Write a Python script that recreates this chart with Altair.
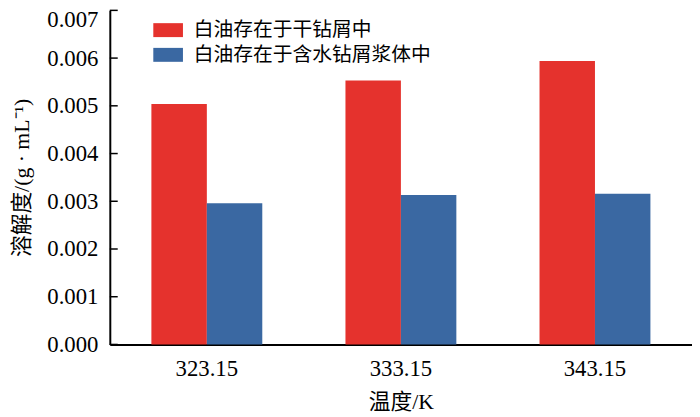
import altair as alt
import pandas as pd

temps = ["323.15", "333.15", "343.15"]
series = ["白油存在于干钻屑中", "白油存在于含水钻屑浆体中"]
dry_values = [0.00504, 0.00553, 0.00594]
slurry_values = [0.00296, 0.00313, 0.00316]
y_ticks = [0.000, 0.001, 0.002, 0.003, 0.004, 0.005, 0.006, 0.007]
colors = ["#E5322D", "#3A68A2"]

rows = []
for t, d, s in zip(temps, dry_values, slurry_values):
    rows.append({"temp": t, "series": series[0], "value": d})
    rows.append({"temp": t, "series": series[1], "value": s})
df = pd.DataFrame(rows)
tick_df = pd.DataFrame({"value": y_ticks})

font = "Liberation Serif, Noto Sans CJK SC"
yscale = alt.Scale(domain=[0, 0.007], nice=False, zero=True)

yaxis = alt.Axis(
    title="溶解度/(g · mL⁻¹)", values=y_ticks, format=".3f",
    ticks=False, tickSize=0, grid=False,
    labelPadding=12, titlePadding=14,
    labelOffset={"condition": {"test": "datum.value > 0.0069", "value": 9}, "value": 0},
    labelFontSize=23, titleFontSize=22,
)

bars = alt.Chart(df).mark_bar().encode(
    x=alt.X(
        "temp:N",
        sort=temps,
        scale=alt.Scale(paddingInner=0, paddingOuter=0),
        axis=alt.Axis(
            title="温度/K", labelAngle=0, ticks=False, tickSize=0,
            labelPadding=13, titlePadding=12,
            labelFontSize=23, titleFontSize=22,
        ),
    ),
    xOffset=alt.XOffset(
        "series:N", sort=series,
        scale=alt.Scale(paddingInner=0, paddingOuter=0.75),
    ),
    y=alt.Y("value:Q", scale=yscale, axis=yaxis),
    color=alt.Color(
        "series:N",
        sort=series,
        scale=alt.Scale(domain=series, range=colors),
        legend=alt.Legend(
            title=None, orient="none", legendX=44, legendY=5,
            symbolType="M-1,-0.47H1V0.47H-1Z", symbolSize=900,
            symbolStrokeWidth=0, symbolOpacity=1,
            labelFontSize=20, labelColor="black",
            labelOffset=11, rowPadding=-6, padding=0, labelLimit=500,
        ),
    ),
)

ticks = alt.Chart(tick_df).mark_rule(color="black", strokeWidth=1.5).encode(
    y=alt.Y("value:Q", scale=yscale, axis=None),
    x=alt.value(0),
    x2=alt.value(8),
)

chart = alt.layer(bars, ticks).resolve_axis(y="independent").properties(
    width=589,
    height=338,
    padding={"left": 103, "top": 0, "right": 0, "bottom": 71},
    autosize=alt.AutoSizeParams(type="none"),
).configure(
    font=font
).configure_view(
    stroke=None
).configure_axis(
    labelFont=font, titleFont=font,
    labelColor="black", titleColor="black",
    titleFontWeight="normal", domainColor="black", domainWidth=2,
).configure_axisY(
    labelFont=font, titleFont=font,
).configure_legend(
    labelFont=font,
)

chart.save("out.html", embed_options={"renderer": "svg", "actions": False})
